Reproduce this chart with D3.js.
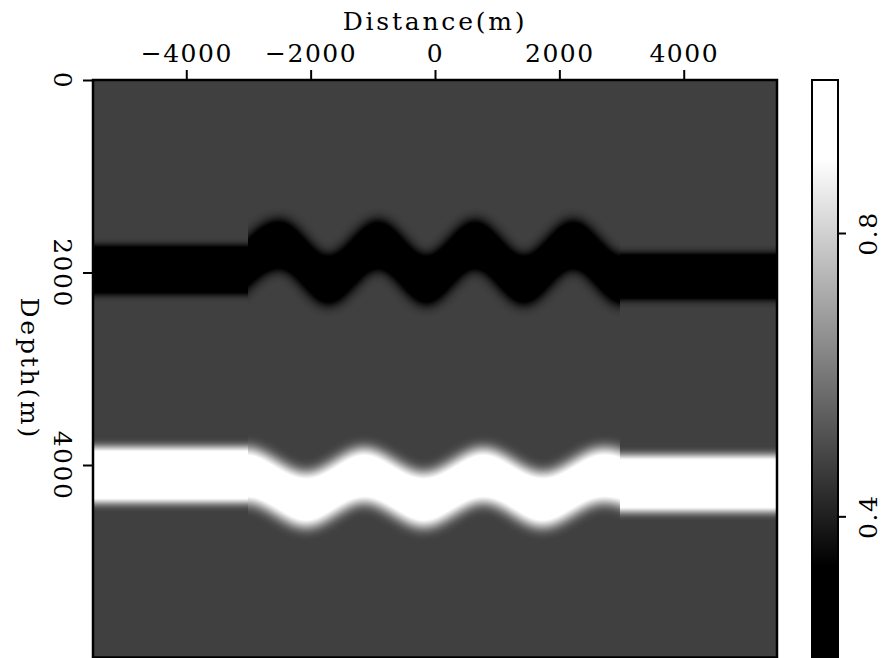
<!DOCTYPE html>
<html><head><meta charset="utf-8">
<script src="https://cdn.jsdelivr.net/npm/d3@7"></script>
<style>
body{margin:0;background:#fff}
svg{display:block}
text{font-family:"DejaVu Serif";font-size:25px;fill:#000}
</style>
</head><body>
<script>
// ---------- data ----------
const xTicks = [-4000, -2000, 0, 2000, 4000];
const yTicks = [0, 2000, 4000];
const cbTicks = [0.4, 0.8];
const xDomain = [-5500, 5500];
const yDomain = [0, 6000];
const cbDomain = [0.2, 1.016];
const clipRange = [0.33, 0.905];          // black below, white above
const backgroundValue = 0.473;
const darkValue = 0.2;
const brightValue = 1.0;
const sectionBreaks = [-5500, -3000, 2970, 5500];
// flat parts [top, bottom] depth (m)
const darkLeft = [1735, 2210], darkRight = [1815, 2268];
const brightLeft = [3818, 4386], brightRight = [3905, 4480];
// undulating middle part: extremes of the interfaces
const darkMidX      = [-3275, -2490, -1715, -915, -135, 645, 1430, 2222, 3010, 3795];
const darkMidTop    = [1845, 1465, 1845, 1465, 1845, 1465, 1845, 1465, 1845, 1465];
const darkMidBottom = [2325, 1945, 2325, 1945, 2325, 1945, 2325, 1945, 2325, 1945];
const brightMidX      = [-3990, -3030, -2070, -1140, -180, 780, 1730, 2705, 3660];
const brightMidTop    = [4090, 3830, 4090, 3830, 4090, 3830, 4090, 3830, 4090];
const brightMidBottom = [4640, 4380, 4640, 4380, 4640, 4380, 4640, 4380, 4640];

// ---------- layout ----------
const W = 884, H = 658;
const plot = {left: 93, right: 777, top: 80, bottom: 657.5};
const x = d3.scaleLinear().domain(xDomain).range([plot.left, plot.right]);
const y = d3.scaleLinear().domain(yDomain).range([plot.top, plot.bottom]);
const cb = d3.scaleLinear().domain(cbDomain).range([658, 80]);
const enc = v => { const g = Math.round(v * 255); return `rgb(${g},${g},${g})`; };

const svg = d3.select("body").append("svg").attr("width", W).attr("height", H);
const defs = svg.append("defs");

// filters: blur in value space, then grey colour map with clipping
const slope = 1 / (clipRange[1] - clipRange[0]);
const icpt = -clipRange[0] * slope;
function makeFilter(id, sd) {
  const filt = defs.append("filter").attr("id", id)
    .attr("filterUnits", "userSpaceOnUse")
    .attr("x", 0).attr("y", 0).attr("width", W).attr("height", H + 40)
    .attr("color-interpolation-filters", "sRGB");
  filt.append("feGaussianBlur").attr("stdDeviation", sd);
  const ct = filt.append("feComponentTransfer");
  ["feFuncR", "feFuncG", "feFuncB"].forEach(f =>
    ct.append(f).attr("type", "linear").attr("slope", slope).attr("intercept", icpt));
}
makeFilter("shadeFlat", 4.5);
makeFilter("shadeMid", 6.5);

const area = d3.area()
  .x(d => x(d.x)).y0(d => y(d.t)).y1(d => y(d.b))
  .curve(d3.curveMonotoneX);

const flat = (lim, x0, x1) => [{x: x0, t: lim[0], b: lim[1]}, {x: x1, t: lim[0], b: lim[1]}];
const zipMid = (xs, ts, bs) => xs.map((v, i) => ({x: v, t: ts[i], b: bs[i]}));

const sections = [
  {x0: sectionBreaks[0], x1: sectionBreaks[1], f: "shadeFlat",
   layers: [{v: darkValue, pts: flat(darkLeft, -7000, -2000)},
            {v: brightValue, pts: flat(brightLeft, -7000, -2000)}]},
  {x0: sectionBreaks[1], x1: sectionBreaks[2], f: "shadeMid",
   layers: [{v: darkValue, pts: zipMid(darkMidX, darkMidTop, darkMidBottom)},
            {v: brightValue, pts: zipMid(brightMidX, brightMidTop, brightMidBottom)}]},
  {x0: sectionBreaks[2], x1: sectionBreaks[3], f: "shadeFlat",
   layers: [{v: darkValue, pts: flat(darkRight, 2000, 7000)},
            {v: brightValue, pts: flat(brightRight, 2000, 7000)}]}
];

sections.forEach((s, i) => {
  const cx0 = Math.round(x(s.x0)), cx1 = Math.round(x(s.x1));
  defs.append("clipPath").attr("id", "sec" + i)
    .append("rect").attr("x", cx0).attr("y", plot.top)
    .attr("width", cx1 - cx0).attr("height", plot.bottom - plot.top);
  const g = svg.append("g").attr("clip-path", `url(#sec${i})`)
    .append("g").attr("filter", `url(#${s.f})`);
  g.append("rect").attr("x", 30).attr("y", 20).attr("width", 820).attr("height", 700)
    .attr("fill", enc(backgroundValue));
  s.layers.forEach(L => g.append("path").attr("d", area(L.pts)).attr("fill", enc(L.v)));
});

// plot frame
svg.append("rect").attr("x", plot.left).attr("y", plot.top)
  .attr("width", plot.right - plot.left).attr("height", plot.bottom - plot.top)
  .attr("fill", "none").attr("stroke", "#000").attr("stroke-width", 2.5);

// top axis
const ax = svg.append("g").attr("transform", `translate(0,${plot.top})`)
  .call(d3.axisTop(x).tickValues(xTicks).tickSize(10).tickPadding(8).tickFormat(d3.format("d")));
ax.select(".domain").remove();
ax.selectAll(".tick line").attr("stroke", "#000").attr("stroke-width", 2);
ax.selectAll("text").attr("font-family", null).attr("font-size", null)
  .style("letter-spacing", "1.5px");

svg.append("text").attr("x", (plot.left + plot.right) / 2).attr("y", 30)
  .attr("text-anchor", "middle").style("letter-spacing", "2.8px").text("Distance(m)");

// left axis
const ay = svg.append("g").attr("transform", `translate(${plot.left},0)`)
  .call(d3.axisLeft(y).tickValues(yTicks).tickSize(10).tickFormat(d3.format("d")));
ay.select(".domain").remove();
ay.selectAll(".tick line").attr("stroke", "#000").attr("stroke-width", 2);
ay.selectAll("text").attr("font-family", null).attr("font-size", null)
  .attr("x", 0).attr("dy", null).attr("text-anchor", "middle")
  .attr("transform", "translate(-39.5,0) rotate(90)")
  .style("letter-spacing", "1.5px");

svg.append("text").attr("transform", `translate(21,${(plot.top + plot.bottom) / 2}) rotate(90)`)
  .attr("text-anchor", "middle").style("letter-spacing", "2.8px").text("Depth(m)");

// colour bar
const grad = defs.append("linearGradient").attr("id", "cbGrad")
  .attr("gradientUnits", "userSpaceOnUse")
  .attr("x1", 0).attr("x2", 0).attr("y1", cb(cbDomain[0])).attr("y2", cb(cbDomain[1]));
const off = v => (v - cbDomain[0]) / (cbDomain[1] - cbDomain[0]);
[[0, "#000"], [off(clipRange[0]), "#000"], [off(clipRange[1]), "#fff"], [1, "#fff"]]
  .forEach(([o, c]) => grad.append("stop").attr("offset", o).attr("stop-color", c));

const cbX = 812, cbW = 26;
svg.append("rect").attr("x", cbX).attr("y", cb(cbDomain[1]))
  .attr("width", cbW).attr("height", 600)
  .attr("fill", "url(#cbGrad)").attr("stroke", "#000").attr("stroke-width", 2);

const ac = svg.append("g").attr("transform", `translate(${cbX + cbW},0)`)
  .call(d3.axisRight(cb).tickValues(cbTicks).tickSize(8).tickFormat(d3.format(".1f")));
ac.select(".domain").remove();
ac.selectAll(".tick line").attr("stroke", "#000").attr("stroke-width", 2);
ac.selectAll("text").attr("font-family", null).attr("font-size", null)
  .attr("x", 0).attr("dy", null).attr("text-anchor", "middle")
  .attr("transform", "translate(39,0) rotate(-90)")
  .style("letter-spacing", "1.5px");
</script>
</body></html>
